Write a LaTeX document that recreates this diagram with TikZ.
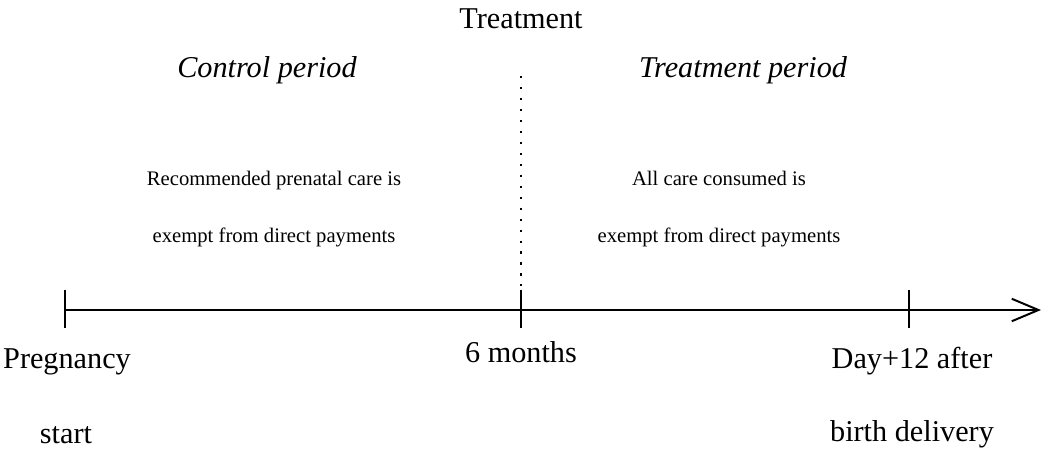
\documentclass[tikz,border=0pt]{standalone}
\usepackage{fontspec}
\setmainfont{Liberation Serif}
\usetikzlibrary{arrows.meta}

\begin{document}
\begin{tikzpicture}[x=0.025cm, y=-0.025cm, >={Straight Barb[length=19pt, width=16pt, line width=1.4pt]},
  big/.style={anchor=base, inner sep=0pt, font=\fontsize{21.5}{26}\selectfont},
  period/.style={big, font=\fontsize{21.5}{26}\selectfont\itshape},
  note/.style={anchor=base, inner sep=0pt, font=\fontsize{14.7}{18}\selectfont},
  axis/.style={line width=1.4pt},
  tick/.style={line width=1.4pt}]
  \useasboundingbox (0,0) rectangle (1049,454);
  % timeline points
  \coordinate (t0) at (65,310);
  \coordinate (t1) at (521,310);
  \coordinate (t2) at (909,310);
  \coordinate (tend) at (1041,310);
  \draw[axis, ->] (t0) -- (tend);
  \foreach \p in {t0,t1,t2}
    \draw[tick] ([yshift=0.5cm]\p) -- ([yshift=-0.45cm]\p);
  % treatment cut-off
  \node[big] (treat) at (521,28) {Treatment};
  \coordinate (cut) at (521,76);
  \draw[line width=1.6pt, dash pattern=on 1.6pt off 6.2pt] (cut) -- ([yshift=0.6cm]t1);
  % periods
  \node[period] (ctrl) at (267,77) {Control period};
  \node[period] (trt) at (743,77) {Treatment period};
  \node[note] (ctrla) at (274,185) {Recommended prenatal care is};
  \node[note] (ctrlb) at (274,242) {exempt from direct payments};
  \node[note] (trta) at (719,185) {All care consumed is};
  \node[note] (trtb) at (719,242) {exempt from direct payments};
  % dates
  \node[big] (starta) at (67,368) {Pregnancy};
  \node[big] (startb) at (66,443) {start};
  \node[big] (six) at (521,362) {6 months};
  \node[big] (enda) at (912,368) {Day+12 after};
  \node[big] (endb) at (912,441) {birth delivery};
\end{tikzpicture}
\end{document}
